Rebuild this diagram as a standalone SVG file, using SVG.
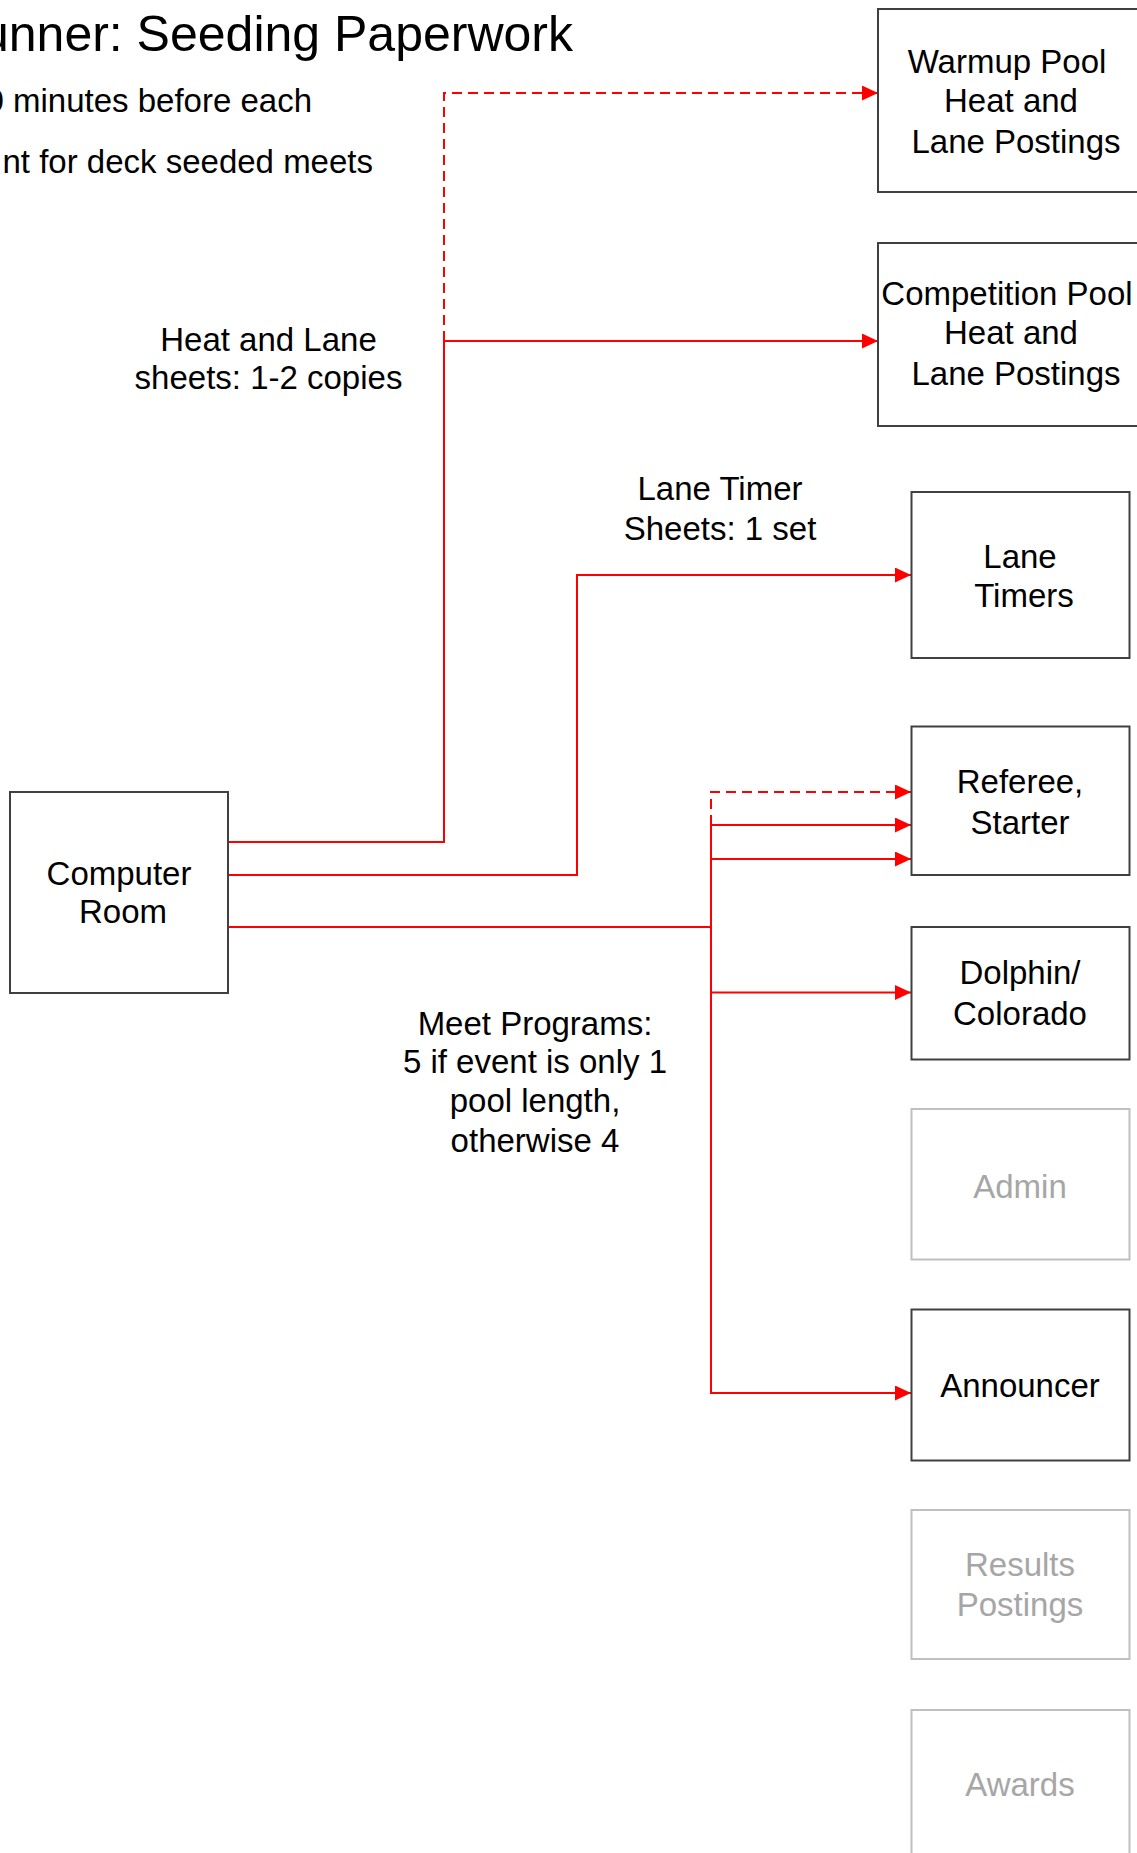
<svg xmlns="http://www.w3.org/2000/svg" width="1137" height="1853" viewBox="0 0 1137 1853">
<style>
text{font-family:"Liberation Sans",Arial,sans-serif;font-size:33px;fill:#000}
.c{text-anchor:middle}
.box{fill:#fff;stroke:#404040;stroke-width:2}
.gbox{fill:#fff;stroke:#bfbfbf;stroke-width:2}
.gt{fill:#a6a6a6}
.ln{fill:none;stroke:#ff0000;stroke-width:2}
.dash{stroke-dasharray:10,6}
.arr{marker-end:url(#ah)}
</style>
<defs>
<marker id="ah" markerUnits="userSpaceOnUse" markerWidth="17" markerHeight="16" refX="16" refY="7.5" orient="auto">
<path d="M0,0 L16,7.5 L0,15 z" fill="#ff0000"/>
</marker>
</defs>
<rect width="1137" height="1853" fill="#fff"/>
<g id="title">
<text x="573" y="51" style="font-size:50px;text-anchor:end">unner: Seeding Paperwork</text>
<text x="312" y="112" style="text-anchor:end">0 minutes before each</text>
<text x="373" y="173" style="text-anchor:end">nt for deck seeded meets</text>
</g>
<g id="connectors">
<polyline class="ln" points="228,842 444,842 444,341"/>
<line class="ln arr" x1="444" y1="341" x2="878" y2="341"/>
<polyline class="ln dash arr" points="444,341 444,93 878,93"/>
<polyline class="ln arr" points="228,875 577,875 577,575 911,575"/>
<polyline class="ln" points="228,927 711,927"/>
<polyline class="ln arr" points="711,825 711,1393 911,1393"/>
<polyline class="ln dash arr" points="711,825 711,792 911,792"/>
<line class="ln arr" x1="711" y1="825" x2="911" y2="825"/>
<line class="ln arr" x1="711" y1="859" x2="911" y2="859"/>
<line class="ln arr" x1="711" y1="992.5" x2="911" y2="992.5"/>
</g>
<g id="label-heat-lane">
<text class="c" x="268.5" y="351">Heat and Lane</text>
<text class="c" x="268.5" y="389">sheets: 1-2 copies</text>
</g>
<g id="label-lane-timer">
<text class="c" x="720" y="500">Lane Timer</text>
<text class="c" x="720" y="540">Sheets: 1 set</text>
</g>
<g id="label-meet-programs">
<text class="c" x="535" y="1035">Meet Programs:</text>
<text class="c" x="535" y="1073">5 if event is only 1</text>
<text class="c" x="535" y="1112">pool length,</text>
<text class="c" x="535" y="1152">otherwise 4</text>
</g>
<g id="computer-room">
<rect class="box" x="10" y="792" width="218" height="201"/>
<text class="c" x="119" y="885">Computer</text>
<text class="c" x="123" y="923">Room</text>
</g>
<g id="warmup-pool">
<rect class="box" x="878" y="9" width="270" height="183"/>
<text class="c" x="1007" y="73">Warmup Pool</text>
<text class="c" x="1011" y="112">Heat and</text>
<text class="c" x="1016" y="153">Lane Postings</text>
</g>
<g id="competition-pool">
<rect class="box" x="878" y="243" width="270" height="183"/>
<text class="c" x="1007" y="305">Competition Pool</text>
<text class="c" x="1011" y="344">Heat and</text>
<text class="c" x="1016" y="385">Lane Postings</text>
</g>
<g id="lane-timers">
<rect class="box" x="911.5" y="492" width="218" height="166"/>
<text class="c" x="1020" y="568">Lane</text>
<text class="c" x="1024" y="607">Timers</text>
</g>
<g id="referee-starter">
<rect class="box" x="911.5" y="726.5" width="218" height="148.5"/>
<text class="c" x="1020" y="793">Referee,</text>
<text class="c" x="1020" y="834">Starter</text>
</g>
<g id="dolphin-colorado">
<rect class="box" x="911.5" y="927" width="218" height="132.5"/>
<text class="c" x="1020" y="984">Dolphin/</text>
<text class="c" x="1020" y="1025">Colorado</text>
</g>
<g id="admin">
<rect class="gbox" x="911.5" y="1109" width="218" height="150.5"/>
<text class="c gt" x="1020" y="1198">Admin</text>
</g>
<g id="announcer">
<rect class="box" x="911.5" y="1309.5" width="218" height="151"/>
<text class="c" x="1020" y="1397">Announcer</text>
</g>
<g id="results-postings">
<rect class="gbox" x="911.5" y="1510" width="218" height="149"/>
<text class="c gt" x="1020" y="1576">Results</text>
<text class="c gt" x="1020" y="1616">Postings</text>
</g>
<g id="awards">
<rect class="gbox" x="911.5" y="1710" width="218" height="160"/>
<text class="c gt" x="1020" y="1796">Awards</text>
</g>
</svg>
